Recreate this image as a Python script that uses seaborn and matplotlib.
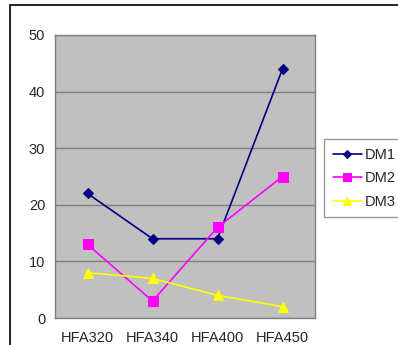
import matplotlib
matplotlib.use("Agg")
import matplotlib.pyplot as plt
import seaborn as sns
import pandas as pd
from matplotlib.patches import Rectangle

categories = ["HFA320", "HFA340", "HFA400", "HFA450"]
dm1 = [22, 14, 14, 44]
dm2 = [13, 3, 16, 25]
dm3 = [8, 7, 4, 2]
series_names = ["DM1", "DM2", "DM3"]

rows = []
for name, vals in zip(series_names, [dm1, dm2, dm3]):
    for c, v in zip(categories, vals):
        rows.append({"cat": c, "val": v, "series": name})
df = pd.DataFrame(rows)

sns.set_style("white")
plt.rcParams["font.family"] = ["Liberation Sans", "DejaVu Sans"]

fig = plt.figure(figsize=(3.98, 3.45), dpi=100)
ax = fig.add_axes([55/398, 1-318/345, 260/398, 283/345])
ax.set_facecolor("#C0C0C0")

palette = {"DM1": "#000080", "DM2": "#FF00FF", "DM3": "#FFFF00"}
markers = {"DM1": "D", "DM2": "s", "DM3": "^"}
sizes = {"DM1": 5, "DM2": 7, "DM3": 7}
for name in series_names:
    sub = df[df.series == name]
    sns.lineplot(data=sub, x="cat", y="val", ax=ax, color=palette[name],
                 marker=markers[name], markersize=sizes[name],
                 markeredgecolor=palette[name], linewidth=1.2, label=name,
                 sort=False, legend=False)

ax.set_xlim(-0.5, 3.5)
ax.set_ylim(0, 50)
ax.set_yticks([0, 10, 20, 30, 40, 50])
ax.yaxis.grid(True, color="#808080", linewidth=1)
ax.xaxis.grid(False)
ax.set_axisbelow(True)
ax.set_xlabel("")
ax.set_ylabel("")

ax.set_xticks([-0.5, 0.5, 1.5, 2.5, 3.5])
ax.set_xticklabels([])
ax.set_xticks(range(len(categories)), minor=True)
ax.set_xticklabels(categories, minor=True)
ax.tick_params(axis="x", which="major", direction="out", length=4, color="#808080", width=1)
ax.tick_params(axis="x", which="minor", length=0, pad=9, labelsize=10.5)
ax.tick_params(axis="y", direction="out", length=4, color="#808080", width=1, labelsize=10.5, pad=3)

for s in ["top", "right", "left", "bottom"]:
    ax.spines[s].set_color("#808080")
    ax.spines[s].set_linewidth(1)

leg = ax.legend(loc="upper left", bbox_to_anchor=(324/398, 1-139/345),
                bbox_transform=fig.transFigure, frameon=True, fancybox=False,
                edgecolor="#808080", fontsize=10.5, handlelength=2.0,
                handletextpad=0.2, labelspacing=0.65, borderpad=0.6,
                borderaxespad=0, markerscale=0.85)
leg.get_frame().set_linewidth(1)

fig.patches.append(Rectangle((10/398, -0.1), 1.2, 1-5/345+0.1,
                             transform=fig.transFigure, fill=False,
                             edgecolor="black", linewidth=1.2))

fig.savefig("out.png", dpi=100)
